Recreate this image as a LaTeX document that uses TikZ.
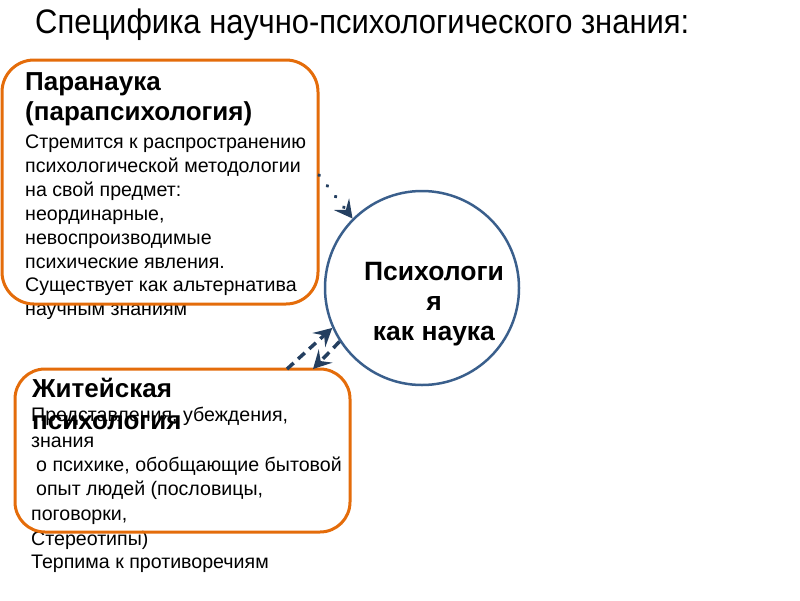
\documentclass[tikz,border=0pt]{standalone}
\usepackage{fontspec}
\setmainfont{Liberation Sans}
\newfontfamily\titlefont[FakeStretch=0.91]{Liberation Sans}
\usetikzlibrary{arrows.meta}
\definecolor{boxorange}{HTML}{E46C0A}
\definecolor{circblue}{HTML}{3A5F8C}
\definecolor{arrowblue}{HTML}{243F60}
\begin{document}
\begin{tikzpicture}[x=1pt,y=-1pt,
  box/.style={draw=boxorange, line width=3pt, rounded corners=32pt, inner sep=0pt},
  bodyline/.style={anchor=base west, inner sep=0pt, font=\fontsize{19.6}{24}\selectfont},
  headline/.style={anchor=base west, inner sep=0pt, font=\fontsize{26}{30}\selectfont\bfseries},
  circline/.style={anchor=base, inner sep=0pt, font=\fontsize{26.5}{30}\selectfont\bfseries},
  tipstyle/.style={-{Stealth[length=18pt,width=19pt,inset=7pt]}},
  dotarrow/.style={draw=arrowblue, line width=3.5pt, dash pattern=on 0.5pt off 13pt, line cap=round, tipstyle},
  dasharrow/.style={draw=arrowblue, line width=3.5pt, dash pattern=on 9pt off 6pt, tipstyle}
]
\useasboundingbox (0,0) rectangle (800,600);

\node[anchor=base west, inner sep=0pt, font=\titlefont\fontsize{34}{40}\selectfont] (title) at (35,33) {Специфика научно-психологического знания:};

% Paranauka
\node[headline] (ph1) at (25,90) {Паранаука};
\node[headline] (ph2) at (25,120) {(парапсихология)};
\node[bodyline] (pb1) at (25,148) {Стремится к распространению};
\node[bodyline] (pb2) at (25,172) {психологической методологии};
\node[bodyline] (pb3) at (25,196) {на свой предмет:};
\node[bodyline] (pb4) at (25,220) {неординарные,};
\node[bodyline] (pb5) at (25,244) {невоспроизводимые};
\node[bodyline] (pb6) at (25,268) {психические явления.};
\node[bodyline] (pb7) at (25,291) {Существует как альтернатива};
\node[bodyline] (pb8) at (25,315) {научным знаниям};
\node[box, minimum width=316pt, minimum height=244pt] (para) at (160,182) {};

% Zhiteiskaya
\node[headline] (zh1) at (32,397) {Житейская};
\node[headline] (zh2) at (32,429) {психология};
\node[bodyline] (zb1) at (31,421) {Представления, убеждения,};
\node[bodyline] (zb2) at (31,447) {знания};
\node[bodyline] (zb3) at (36,471) {о психике, обобщающие бытовой};
\node[bodyline] (zb4) at (36,495) {опыт людей (пословицы,};
\node[bodyline] (zb5) at (31,520) {поговорки,};
\node[bodyline] (zb6) at (31,545) {Стереотипы)};
\node[bodyline] (zb7) at (31,568) {Терпима к противоречиям};
\node[box, rounded corners=30pt, minimum width=335pt, minimum height=163pt] (zhit) at (182.5,450.5) {};

% Circle
\node[draw=circblue, line width=2.5pt, circle, minimum size=194pt, inner sep=0pt] (psy) at (422,288) {};
\node[circline] (c1) at (434,280) {Психологи};
\node[circline] (c2) at (434,310) {я};
\node[circline] (c3) at (434,340) {как наука};

% Connectors
\coordinate (a1) at (319,175);
\draw[dotarrow] (a1) -- (psy.135);
\coordinate (b1) at (287,369);
\coordinate (b2) at (313,369);
\draw[dasharrow] (b1) -- (psy.204);
\draw[dasharrow] (psy.213) -- (b2);
\end{tikzpicture}
\end{document}
